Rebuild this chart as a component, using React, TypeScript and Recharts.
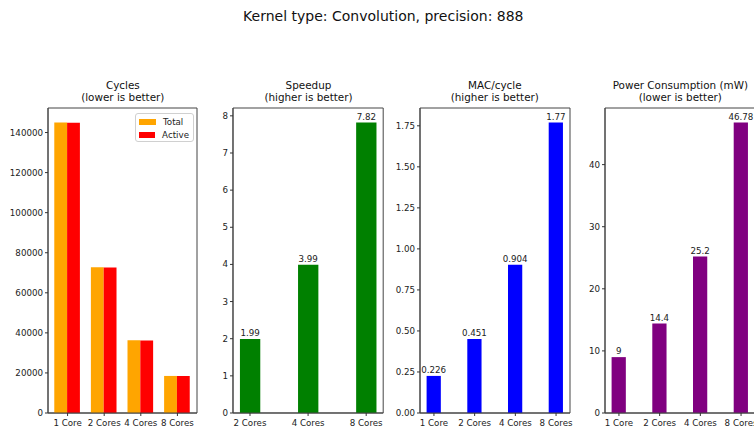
import React from 'react';
import { BarChart, Bar, XAxis, YAxis, ReferenceArea, LabelList, Legend } from 'recharts';

// ---- data ----
const coreLabels = ['1 Core', '2 Cores', '4 Cores', '8 Cores'];
const totalCycles = [145000, 72700, 36300, 18500];
const activeCycles = [144900, 72650, 36250, 18480];

const speedupLabels = ['2 Cores', '4 Cores', '8 Cores'];
const speedupValues = [1.99, 3.99, 7.82];

const macPerCycle = [0.226, 0.451, 0.904, 1.77];
const powerMw = [9, 14.4, 25.2, 46.78];

const cycleTicks = [0, 20000, 40000, 60000, 80000, 100000, 120000, 140000];
const speedupTicks = [0, 1, 2, 3, 4, 5, 6, 7, 8];
const macTicks = [0, 0.25, 0.5, 0.75, 1, 1.25, 1.5, 1.75];
const powerTicks = [0, 10, 20, 30, 40];

const legendOrder = ['Total', 'Active'];

const FONT = '"DejaVu Sans", "Liberation Sans", sans-serif';
const PLOT_TOP = 108;
const PLOT_BOTTOM = 413;
const AXIS_W = 45;
const H = 429;

const tickStyle = { fontSize: 8.7, fill: '#222', fontFamily: FONT };

type BarDef = { key: string; name: string; color: string };

interface PanelProps {
  plotLeft: number;
  plotWidth: number;
  title: string;
  subtitle: string;
  labels: string[];
  rows: Record<string, number>[];
  bars: BarDef[];
  yTicks: number[];
  yFormat?: (v: number) => string;
  showValues?: boolean;
  legend?: boolean;
}

function LegendBox({ payload }: any) {
  // keep matplotlib's order (series order), not alphabetical
  const items = [...(payload || [])].sort(
    (a: any, b: any) => legendOrder.indexOf(a.value) - legendOrder.indexOf(b.value)
  );
  return (
    <div
      style={{
        border: '1px solid #d0d0d0',
        borderRadius: 3,
        background: 'rgba(255,255,255,0.85)',
        padding: '2px 4px 1px 3px',
        fontFamily: FONT,
        fontSize: 8.7,
        color: '#222',
        boxSizing: 'border-box',
        height: 29,
      }}
    >
      {items.map((p: any) => (
        <div key={p.value} style={{ display: 'flex', alignItems: 'center', height: 12.5 }}>
          <span style={{ display: 'inline-block', width: 17, height: 6, background: p.color, marginRight: 7 }} />
          <span>{p.value}</span>
        </div>
      ))}
    </div>
  );
}

function Panel({ plotLeft, plotWidth, title, subtitle, labels, rows, bars, yTicks, yFormat, showValues, legend }: PanelProps) {
  const n = labels.length;
  const half = bars.length > 1 ? 0.35 : 0.175;
  const span = n - 1 + 2 * half;
  const xMin = -half - 0.05 * span;
  const xMax = n - 1 + half + 0.05 * span;
  const barPx = (0.35 * plotWidth) / (xMax - xMin);
  const dataMax = Math.max(...rows.flatMap((r) => bars.map((b) => r[b.key])));
  const yMax = dataMax * 1.05;
  const chartW = AXIS_W + plotWidth + 14;

  return (
    <>
      <div
        style={{
          position: 'absolute',
          left: plotLeft,
          width: plotWidth,
          top: 79,
          textAlign: 'center',
          fontFamily: FONT,
          fontSize: 10.4,
          lineHeight: '12.3px',
          color: '#111',
          whiteSpace: 'nowrap',
        }}
      >
        <div>{title}</div>
        <div>{subtitle}</div>
      </div>
      <div style={{ position: 'absolute', left: plotLeft - AXIS_W, top: 0 }}>
        <BarChart
          width={chartW}
          height={H}
          data={rows}
          barGap={0}
          margin={{ top: PLOT_TOP, right: chartW - AXIS_W - plotWidth, bottom: H - PLOT_BOTTOM - 17, left: 0 }}
        >
          <XAxis
            dataKey="x"
            type="number"
            domain={[xMin, xMax]}
            ticks={labels.map((_, i) => i)}
            tickFormatter={(v: number) => labels[v]}
            height={17}
            tickSize={3}
            tickMargin={4}
            tick={tickStyle}
            tickLine={{ stroke: '#333' }}
            axisLine={{ stroke: '#444' }}
            interval={0}
          />
          <YAxis
            type="number"
            domain={[0, yMax]}
            ticks={yTicks}
            tickFormatter={yFormat}
            width={AXIS_W}
            tickSize={3}
            tickMargin={2}
            tick={tickStyle}
            tickLine={{ stroke: '#333' }}
            axisLine={{ stroke: '#444' }}
            interval={0}
          />
          <ReferenceArea x1={xMin} x2={xMax} y1={0} y2={yMax} fill="none" stroke="#444" strokeWidth={1} />
          {bars.map((b) => (
            <Bar key={b.key} dataKey={b.key} name={b.name} fill={b.color} barSize={barPx} isAnimationActive={false}>
              {showValues && (
                <LabelList
                  dataKey={b.key}
                  position="top"
                  offset={3}
                  style={{ fontSize: 8.7, fill: '#222', fontFamily: FONT }}
                />
              )}
            </Bar>
          ))}
          {legend && (
            <Legend
              layout="vertical"
              align="center"
              verticalAlign="middle"
              content={<LegendBox />}
              wrapperStyle={{ top: 113, left: 135 - (plotLeft - AXIS_W), width: 59, height: 29 }}
            />
          )}
        </BarChart>
      </div>
    </>
  );
}

export default function App() {
  const cycleRows = coreLabels.map((_, i) => ({ x: i, total: totalCycles[i], active: activeCycles[i] }));
  const speedupRows = speedupLabels.map((_, i) => ({ x: i, value: speedupValues[i] }));
  const macRows = coreLabels.map((_, i) => ({ x: i, value: macPerCycle[i] }));
  const powerRows = coreLabels.map((_, i) => ({ x: i, value: powerMw[i] }));

  return (
    <div
      style={{
        position: 'absolute',
        left: 0,
        top: 0,
        width: 754,
        height: H,
        overflow: 'hidden',
        background: '#fff',
        fontFamily: FONT,
      }}
    >
      <div
        style={{
          position: 'absolute',
          left: 383.3,
          top: 8,
          transform: 'translateX(-50%)',
          fontSize: 14,
          lineHeight: '16px',
          color: '#111',
          whiteSpace: 'nowrap',
        }}
      >
        Kernel type: Convolution, precision: 888
      </div>

      <Panel
        plotLeft={48.3}
        plotWidth={149}
        title="Cycles"
        subtitle="(lower is better)"
        labels={coreLabels}
        rows={cycleRows}
        bars={[
          { key: 'total', name: 'Total', color: '#FFA500' },
          { key: 'active', name: 'Active', color: '#FF0000' },
        ]}
        yTicks={cycleTicks}
        legend
      />
      <Panel
        plotLeft={233.4}
        plotWidth={150.2}
        title="Speedup"
        subtitle="(higher is better)"
        labels={speedupLabels}
        rows={speedupRows}
        bars={[{ key: 'value', name: 'Speedup', color: '#008000' }]}
        yTicks={speedupTicks}
        showValues
      />
      <Panel
        plotLeft={419.8}
        plotWidth={150}
        title="MAC/cycle"
        subtitle="(higher is better)"
        labels={coreLabels}
        rows={macRows}
        bars={[{ key: 'value', name: 'MAC/cycle', color: '#0000FF' }]}
        yTicks={macTicks}
        yFormat={(v: number) => v.toFixed(2)}
        showValues
      />
      <Panel
        plotLeft={605.3}
        plotWidth={150}
        title="Power Consumption (mW)"
        subtitle="(lower is better)"
        labels={coreLabels}
        rows={powerRows}
        bars={[{ key: 'value', name: 'Power', color: '#800080' }]}
        yTicks={powerTicks}
        showValues
      />
    </div>
  );
}
